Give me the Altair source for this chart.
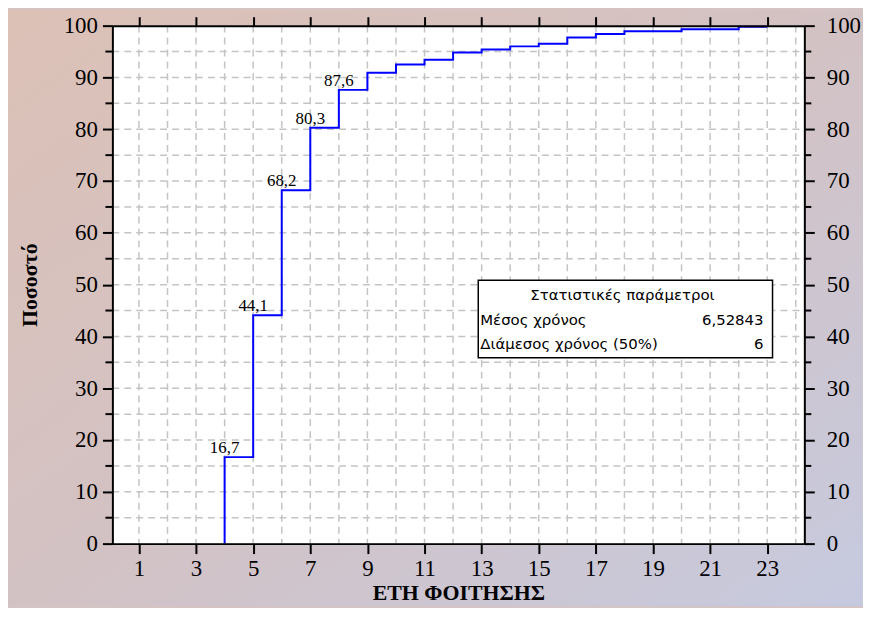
import altair as alt
import pandas as pd

# ---- data ----
years = [4, 5, 6, 7, 8, 9, 10, 11, 12, 13, 14, 15, 16, 17, 18, 19, 20, 21, 22, 23]
cum_pct = [16.7, 44.1, 68.2, 80.3, 87.6, 90.9, 92.5, 93.4, 94.8, 95.4, 96.0, 96.5,
           97.7, 98.4, 98.9, 98.9, 99.3, 99.3, 99.8, 99.8]
start_year = 4
start_pct = 0.0

label_years = [4, 5, 6, 7, 8]
label_values = [16.7, 44.1, 68.2, 80.3, 87.6]

x_ticks = [1, 3, 5, 7, 9, 11, 13, 15, 17, 19, 21, 23]
y_ticks = [0, 10, 20, 30, 40, 50, 60, 70, 80, 90, 100]
y_minor = [5, 15, 25, 35, 45, 55, 65, 75, 85, 95]
grid_x = list(range(1, 25))
grid_y = list(range(5, 100, 5))

stats_title = "Στατιστικές παράμετροι"
stats_labels = ["Μέσος χρόνος", "Διάμεσος χρόνος (50%)"]
stats_values = ["6,52843", "6"]

x_title = "ΕΤΗ ΦΟΙΤΗΣΗΣ"
y_title = "Ποσοστό"

# ---- layout ----
W, H = 696, 521
PAD = {"left": 105, "top": 16, "right": 59, "bottom": 63}
SERIF = "Liberation Serif"
SANS = "DejaVu Sans"

xscale = alt.Scale(domain=[0.07, 24.3], nice=False, zero=False)
yscale = alt.Scale(domain=[0, 100], nice=False, zero=False)

axis_common = dict(
    grid=False, domainColor="black", domainWidth=2, tickColor="black", tickWidth=2,
    labelFont=SERIF, labelFontSize=23, labelColor="black", labelFlush=False,
    labelOverlap=False, zindex=1,
)

ax_bottom = alt.Axis(orient="bottom", values=x_ticks, tickSize=10, labelPadding=4,
                     title=x_title, titleFont=SERIF, titleFontSize=22, titleFontWeight="bold",
                     titleColor="black", titleX=W / 2, titleY=49, titleAlign="center",
                     titleBaseline="middle", **axis_common)
ax_top = alt.Axis(orient="top", values=x_ticks, tickSize=9, labels=False, title=None,
                  **axis_common)
ax_left = alt.Axis(orient="left", values=y_ticks, tickSize=10, labelPadding=5,
                   title=y_title, titleFont=SERIF, titleFontSize=22, titleFontWeight="bold",
                   titleColor="black", titleX=-83, titleY=H / 2, titleAngle=270,
                   titleAlign="center", titleBaseline="middle", **axis_common)
ax_right = alt.Axis(orient="right", values=y_ticks, tickSize=10, labelPadding=12,
                    labelAlign="left", title=None, **axis_common)

# ---- tables ----
line_df = pd.DataFrame({"x": [start_year] + years, "y": [start_pct] + cum_pct})
lab_df = pd.DataFrame({"x": label_years, "y": label_values,
                       "t": [f"{v:.1f}".replace(".", ",") for v in label_values]})
gx_df = pd.DataFrame({"x": grid_x})
gy_df = pd.DataFrame({"y": grid_y})
minor_df = pd.DataFrame({"y": y_minor})

bg_grad = alt.LinearGradient(
    gradient="linear", x1=0, y1=0, x2=1, y2=1,
    stops=[alt.GradientStop(offset=0, color="#dcc1b6"),
           alt.GradientStop(offset=0.5, color="#d3c2c4"),
           alt.GradientStop(offset=1, color="#c6cadf")],
)

bg = alt.Chart(pd.DataFrame({"a": [0]})).mark_rect(fill=bg_grad).encode(
    x=alt.value(-PAD["left"]), x2=alt.value(W + PAD["right"]),
    y=alt.value(-PAD["top"]), y2=alt.value(H + PAD["bottom"]))

plot_bg = alt.Chart(pd.DataFrame({"a": [0]})).mark_rect(fill="white").encode(
    x=alt.value(0), x2=alt.value(W), y=alt.value(0), y2=alt.value(H))

vgrid = alt.Chart(gx_df).mark_rule(color="#c4c4c4", strokeWidth=1.5, strokeDash=[7, 5]).encode(
    x=alt.X("x:Q", scale=xscale, axis=ax_top),
    y=alt.value(0), y2=alt.value(H))

hgrid = alt.Chart(gy_df).mark_rule(color="#c4c4c4", strokeWidth=1.5, strokeDash=[7, 5]).encode(
    y=alt.Y("y:Q", scale=yscale, axis=ax_right),
    x=alt.value(0), x2=alt.value(W))

line = alt.Chart(line_df).mark_line(color="#0000ff", strokeWidth=2, interpolate="step-after").encode(
    x=alt.X("x:Q", scale=xscale, axis=ax_bottom),
    y=alt.Y("y:Q", scale=yscale, axis=ax_left))

labels = alt.Chart(lab_df).mark_text(font=SERIF, fontSize=17, color="black", align="center",
                                     baseline="bottom", dy=0).encode(
    x=alt.X("x:Q", scale=xscale, axis=None),
    y=alt.Y("y:Q", scale=yscale, axis=None),
    text="t:N")

minor_left = alt.Chart(minor_df).mark_rule(color="black", strokeWidth=2).encode(
    y=alt.Y("y:Q", scale=yscale, axis=None), x=alt.value(-7), x2=alt.value(0))
minor_right = alt.Chart(minor_df).mark_rule(color="black", strokeWidth=2).encode(
    y=alt.Y("y:Q", scale=yscale, axis=None), x=alt.value(W), x2=alt.value(W + 7))

# stats box
BX0, BX1, BY0, BY1 = 368, 664, 256, 334
box = alt.Chart(pd.DataFrame({"a": [0]})).mark_rect(fill="white", stroke="black", strokeWidth=1.5).encode(
    x=alt.value(BX0), x2=alt.value(BX1), y=alt.value(BY0), y2=alt.value(BY1))
box_title = alt.Chart(pd.DataFrame({"t": [stats_title]})).mark_text(
    font=SANS, fontSize=15, color="black", align="center", baseline="middle").encode(
    x=alt.value(513), y=alt.value(271), text="t:N")
box_l1 = alt.Chart(pd.DataFrame({"t": [stats_labels[0]]})).mark_text(
    font=SANS, fontSize=15, color="black", align="left", baseline="middle").encode(
    x=alt.value(BX0 + 2), y=alt.value(296), text="t:N")
box_l2 = alt.Chart(pd.DataFrame({"t": [stats_labels[1]]})).mark_text(
    font=SANS, fontSize=15, color="black", align="left", baseline="middle").encode(
    x=alt.value(BX0 + 2), y=alt.value(320), text="t:N")
box_v1 = alt.Chart(pd.DataFrame({"t": [stats_values[0]]})).mark_text(
    font=SANS, fontSize=15, color="black", align="right", baseline="middle").encode(
    x=alt.value(BX1 - 9), y=alt.value(296), text="t:N")
box_v2 = alt.Chart(pd.DataFrame({"t": [stats_values[1]]})).mark_text(
    font=SANS, fontSize=15, color="black", align="right", baseline="middle").encode(
    x=alt.value(BX1 - 9), y=alt.value(320), text="t:N")

chart = alt.layer(
    bg, plot_bg, vgrid, hgrid, line, labels, minor_left, minor_right,
    box, box_title, box_l1, box_l2, box_v1, box_v2,
).resolve_axis(x="independent", y="independent").properties(
    width=W, height=H, padding=PAD, autosize=alt.AutoSizeParams(type="none"),
    background="#d5c4c3",
).configure_view(strokeWidth=0)

chart.save("out.html", embed_options={"renderer": "svg", "actions": False})
